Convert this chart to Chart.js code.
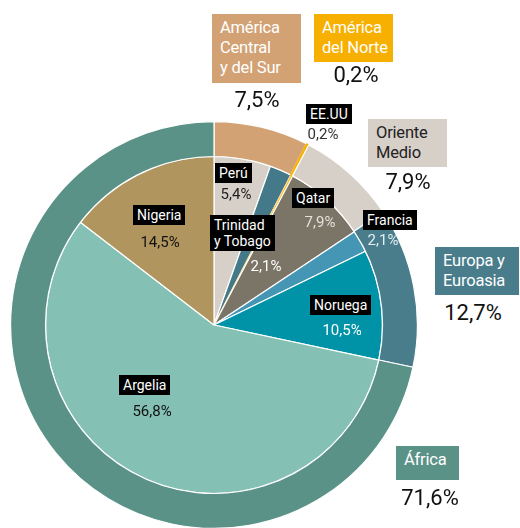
<!DOCTYPE html>
<html>
<head>
<meta charset="utf-8">
<script src="https://cdn.jsdelivr.net/npm/chart.js@4.4.1/dist/chart.umd.min.js"></script>
<style>
html,body{margin:0;padding:0;width:520px;height:528px;overflow:hidden;background:#fff;font-family:Roboto,"Noto Sans",sans-serif;}
#wrap{position:absolute;left:10px;top:121px;width:408px;height:408px;}
.ib{position:absolute;background:#000;color:#fff;font-size:14px;line-height:16px;padding:2px 4px;white-space:nowrap;}
.ip{position:absolute;font-size:15px;line-height:16px;transform:translateX(-50%);white-space:nowrap;}
.ob{position:absolute;font-size:16.5px;line-height:20px;padding:4px 4px 4px 8px;box-sizing:border-box;white-space:nowrap;letter-spacing:-0.2px;}
.op{position:absolute;font-size:22px;line-height:24px;transform:translateX(-50%);color:#111;white-space:nowrap;}
</style>
</head>
<body>
<div id="wrap"><canvas id="c"></canvas></div>
<div id="labels"></div>
<script>
// ---- data ----
const outerLabels = ['América Central y del Sur', 'América del Norte', 'Oriente Medio', 'Europa y Euroasia', 'África'];
const outerValues = [7.5, 0.2, 7.9, 12.7, 71.6];
const innerLabels = ['Perú', 'Trinidad y Tobago', 'EE.UU', 'Qatar', 'Francia', 'Noruega', 'Argelia', 'Nigeria'];
const innerValues = [5.4, 2.1, 0.2, 7.9, 2.1, 10.5, 56.8, 14.5];

// ---- styles ----
const outerColors = ['#d2a275', '#f7b000', '#d6d0c9', '#497d8c', '#5a9288'];
const innerColors = ['#d6d0c9', '#44798a', '#f7b000', '#7a7566', '#4596b4', '#0093a7', '#84c1b4', '#b0955e'];

const fmt = v => v.toFixed(1).replace('.', ',') + '%';

new Chart(document.getElementById('c'), {
  type: 'pie',
  data: {
    labels: innerLabels,
    datasets: [
      { data: outerValues, backgroundColor: outerColors, borderColor: outerColors.map((c,i)=> i===1 ? c : '#ffffff'), borderWidth: 1.2, weight: 35 },
      { data: innerValues, backgroundColor: innerColors, borderColor: innerColors.map((c,i)=> i===2 ? '#fbd98a' : '#ffffff'), borderWidth: 1.2, weight: 169 }
    ]
  },
  options: {
    responsive: true,
    maintainAspectRatio: false,
    animation: false,
    layout: { padding: 0 },
    plugins: { legend: { display: false }, tooltip: { enabled: false } }
  }
});

// ---- labels (layout positions) ----
const L = document.getElementById('labels');
function add(html){ L.insertAdjacentHTML('beforeend', html); }

// inner slice labels: [box left, box top, pct center x, pct top, pct color]
const innerPos = [
  [215,163, 236,186,'#222'],
  [210,215, 266,258,'#fff'],
  [306,104, 323,126,'#333'],
  [292,188, 320,214,'#e4e0da'],
  [363,210, 383,232,'#e4eef2'],
  [310,295, 342,322,'#ffffff'],
  [119,375, 152,403,'#111'],
  [133,205, 160,234,'#111']
];
innerLabels.forEach((name,i)=>{
  const p = innerPos[i];
  const txt = name === 'Trinidad y Tobago' ? 'Trinidad<br>y Tobago' : name;
  add(`<div class="ib" style="left:${p[0]}px;top:${p[1]}px">${txt}</div>`);
  add(`<div class="ip" style="left:${p[2]}px;top:${p[3]}px;color:${p[4]}">${fmt(innerValues[i])}</div>`);
});

// outer labels: [left, top, width, height, text color, pct center x, pct top, html]
const outerPos = [
  [212,14,89,69,'#fff',257,88,'América<br>Central<br>y del Sur'],
  [314,14,79,48,'#fff',356,63,'América<br>del Norte'],
  [368,119,79,48,'#222',408,170,'Oriente<br>Medio'],
  [435,247,84,48,'#fff',473,301,'Europa y<br>Euroasia'],
  [396,446,63,34,'#fff',430,486,'África']
];
outerLabels.forEach((name,i)=>{
  const p = outerPos[i];
  add(`<div class="ob" style="left:${p[0]}px;top:${p[1]}px;width:${p[2]}px;height:${p[3]}px;background:${outerColors[i]};color:${p[4]}">${p[7]}</div>`);
  add(`<div class="op" style="left:${p[5]}px;top:${p[6]}px">${fmt(outerValues[i])}</div>`);
});
</script>
</body>
</html>
